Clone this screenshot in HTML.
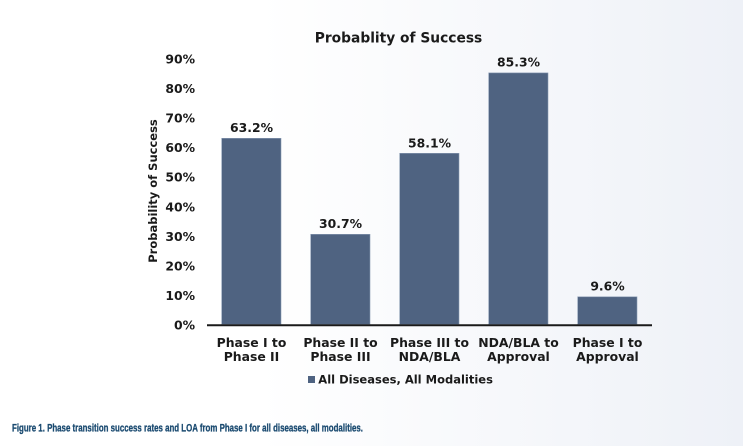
<!DOCTYPE html>
<html>
<head>
<meta charset="utf-8">
<style>
html,body{margin:0;padding:0;}
body{width:743px;height:446px;overflow:hidden;background:linear-gradient(to right,#ffffff 0%,#ffffff 35%,#eef1f7 100%);}
svg{display:block;}
.t{font-family:"DejaVu Sans","Liberation Sans",sans-serif;font-weight:bold;fill:#1a1a1a;}
</style>
</head>
<body>
<svg width="743" height="446" viewBox="0 0 743 446" xmlns="http://www.w3.org/2000/svg">
  <!-- title -->
  <text class="t" x="398.5" y="42.4" font-size="13.8" text-anchor="middle">Probablity of Success</text>

  <!-- y tick labels -->
  <g class="t" font-size="12.4" text-anchor="end">
    <text x="195" y="329.5">0%</text>
    <text x="195" y="299.9">10%</text>
    <text x="195" y="270.4">20%</text>
    <text x="195" y="240.8">30%</text>
    <text x="195" y="211.3">40%</text>
    <text x="195" y="181.7">50%</text>
    <text x="195" y="152.2">60%</text>
    <text x="195" y="122.6">70%</text>
    <text x="195" y="93.1">80%</text>
    <text x="195" y="63.5">90%</text>
  </g>

  <!-- y axis title -->
  <text class="t" font-size="11.5" text-anchor="middle" transform="translate(156.8,191) rotate(-90)">Probability of Success</text>

  <!-- bars -->
  <g fill="#4f6381" stroke="#8a9bb3" stroke-width="0.6">
    <rect x="221.7" y="138.3" width="59.3" height="186"/>
    <rect x="310.7" y="234.3" width="59.3" height="90"/>
    <rect x="399.7" y="153.3" width="59.3" height="171"/>
    <rect x="488.7" y="72.9" width="59.3" height="251.4"/>
    <rect x="577.7" y="296.8" width="59.3" height="27.5"/>
  </g>

  <!-- axis line -->
  <line x1="207" y1="325.2" x2="652" y2="325.2" stroke="#1a1a1a" stroke-width="2"/>

  <!-- data labels -->
  <g class="t" font-size="12.4" text-anchor="middle">
    <text x="251.5" y="132.1">63.2%</text>
    <text x="340.5" y="228.1">30.7%</text>
    <text x="429.5" y="147.3">58.1%</text>
    <text x="518.5" y="66.6">85.3%</text>
    <text x="607.5" y="290.4">9.6%</text>
  </g>

  <!-- category labels -->
  <g class="t" font-size="12.4" text-anchor="middle">
    <text x="251.5" y="346.8">Phase I to</text>
    <text x="251.5" y="361.2">Phase II</text>
    <text x="340.5" y="346.8">Phase II to</text>
    <text x="340.5" y="361.2">Phase III</text>
    <text x="429.5" y="346.8">Phase III to</text>
    <text x="429.5" y="361.2">NDA/BLA</text>
    <text x="518.5" y="346.8">NDA/BLA to</text>
    <text x="518.5" y="361.2">Approval</text>
    <text x="607.5" y="346.8">Phase I to</text>
    <text x="607.5" y="361.2">Approval</text>
  </g>

  <!-- legend -->
  <rect x="308" y="376" width="7" height="7" fill="#4f6381"/>
  <text class="t" x="318.3" y="383.5" font-size="11.5">All Diseases, All Modalities</text>

  <!-- caption -->
  <text x="12" y="431.7" font-family="'Liberation Sans',sans-serif" font-weight="bold" font-size="11" fill="#1a4a70" stroke="#1a4a70" stroke-width="0.3" textLength="351" lengthAdjust="spacingAndGlyphs">Figure 1. Phase transition success rates and LOA from Phase I for all diseases, all modalities.</text>
</svg>
</body>
</html>
